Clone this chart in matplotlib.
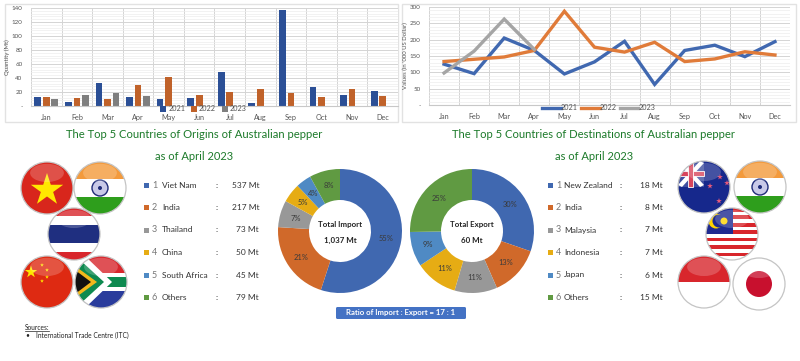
import matplotlib
matplotlib.use("Agg")
import matplotlib.pyplot as plt
import numpy as np
from matplotlib.patches import Circle, Rectangle, Ellipse, Polygon, FancyBboxPatch
from matplotlib.ticker import MultipleLocator, FuncFormatter

plt.rcParams['font.family'] = ['Lato', 'DejaVu Sans']

months = ["Jan", "Feb", "Mar", "Apr", "May", "Jun", "Jul", "Aug", "Sep", "Oct", "Nov", "Dec"]

qty_2021 = [13, 6, 33, 13, 10, 12, 48, 5, 137, 27, 16, 21]
qty_2022 = [13, 12, 10, 30, 41, 16, 20, 24, 18, 13, 24, 14]
qty_2023 = [10, 16, 19, 14]

val_2021 = [125, 96, 205, 167, 95, 132, 195, 63, 167, 183, 148, 194]
val_2022 = [133, 140, 147, 167, 287, 177, 162, 192, 133, 141, 163, 153]
val_2023 = [98, 165, 263, 170]

import_names = ["Viet Nam", "India", "Thailand", "China", "South Africa", "Others"]
import_mt = [537, 217, 73, 50, 45, 79]
import_pct = [55, 21, 7, 5, 4, 8]

export_names = ["New Zealand", "India", "Malaysia", "Indonesia", "Japan", "Others"]
export_mt = [18, 8, 7, 7, 6, 15]
export_pct = [30, 13, 11, 11, 9, 25]

colors = ["#4068B0", "#D0692A", "#989898", "#E6AC14", "#4F8AC4", "#609A42"]
dark_blue = "#2B4F96"
green_title = "#1C7A2A"
text_col = "#333333"

W, H = 800, 361
fig = plt.figure(figsize=(W / 100, H / 100), dpi=100)


def px_axes(x0, y0, x1, y1, **kw):
    return fig.add_axes([x0 / W, 1 - y1 / H, (x1 - x0) / W, (y1 - y0) / H], **kw)


def style_chart(ax, step, ylabel, label_x):
    ax.set_facecolor("white")
    ax.yaxis.set_major_locator(MultipleLocator(step))
    ax.yaxis.set_minor_locator(MultipleLocator(step / 5))
    ax.yaxis.set_major_formatter(FuncFormatter(lambda v, p: "-" if v == 0 else "%d" % v))
    ax.set_xticks(range(12))
    ax.set_xticklabels(months, fontsize=5.2, color="#555555")
    ax.set_xticks([i - 0.5 for i in range(13)], minor=True)
    ax.tick_params(axis="both", which="both", length=0)
    ax.tick_params(axis="y", labelsize=4.5, labelcolor="#555555", pad=6)
    ax.tick_params(axis="x", pad=6)
    ax.grid(True, which="major", color="#D4D4D4", lw=0.7)
    ax.grid(True, which="minor", color="#EDEDED", lw=0.5)
    ax.xaxis.grid(True, which="minor", color="#D4D4D4", lw=0.7)
    ax.xaxis.grid(False, which="major")
    ax.set_axisbelow(True)
    for s in ax.spines.values():
        s.set_visible(False)
    ax.spines["bottom"].set_visible(True)
    ax.spines["bottom"].set_color("#C8C8C8")
    ax.set_ylabel(ylabel, fontsize=4.3, color="#555555")
    ax.yaxis.set_label_coords(label_x, 0.5)


# overlay in pixel coordinates for frames, text and flags
bg = px_axes(0, 0, W, H)
bg.set_xlim(0, W)
bg.set_ylim(H, 0)
bg.axis("off")
bg.add_patch(Rectangle((5, 4), 393, 118, fc="white", ec="#E2E2E2", lw=1))
bg.add_patch(Rectangle((402, 4), 394, 118, fc="white", ec="#E2E2E2", lw=1))

# bar chart
ax1 = px_axes(31, 8, 398, 106)
n = range(12)
w = 0.22
ax1.bar([i - 0.28 for i in n], qty_2021, w, color=dark_blue, label="2021")
ax1.bar(n, qty_2022, w, color="#C0622A", label="2022")
ax1.bar([i + 0.28 for i in range(len(qty_2023))], qty_2023, w, color="#7F7F7F", label="2023")
ax1.set_xlim(-0.5, 11.5)
ax1.set_ylim(0, 140)
style_chart(ax1, 20, "Quantity (Mt)", -21 / 367)
ax1.legend(loc="center", bbox_to_anchor=(0.47, -0.03), ncol=3, frameon=False, fontsize=5.2,
           handlelength=0.8, handleheight=0.8, handletextpad=0.3, columnspacing=0.8,
           labelcolor="#555555", borderpad=0)

# line chart
ax2 = px_axes(429, 7, 790, 105)
ax2.plot(n, val_2021, color="#4068B0", lw=2.4, label="2021", solid_joinstyle="miter")
ax2.plot(n, val_2022, color="#E07B39", lw=2.4, label="2022", solid_joinstyle="miter")
ax2.plot(range(len(val_2023)), val_2023, color="#A5A5A5", lw=2.4, label="2023", solid_joinstyle="miter")
ax2.set_xlim(-0.5, 11.5)
ax2.set_ylim(0, 300)
style_chart(ax2, 50, "Values (in '000 US Dollar)", -21 / 361)
ax2.legend(loc="center", bbox_to_anchor=(0.47, -0.03), ncol=3, frameon=False, fontsize=5.2,
           handlelength=2.6, handletextpad=0, columnspacing=0.4, labelcolor="#555555", borderpad=0)

# titles
bg.text(194.5, 135, "The Top 5 Countries of Origins of Australian pepper", color=green_title,
        fontsize=8.15, ha="center", va="center")
bg.text(194, 156, "as of April 2023", color=green_title, fontsize=8, ha="center", va="center")
bg.text(594, 135, "The Top 5 Countries of Destinations of Australian pepper", color=green_title,
        fontsize=8.15, ha="center", va="center")
bg.text(594, 156, "as of April 2023", color=green_title, fontsize=8, ha="center", va="center")


def legend_rows(names, mt, x_sq, x_num, x_name, x_colon, x_val):
    for i in range(len(names)):
        y = 185 + i * 22.5
        bg.add_patch(Rectangle((x_sq, y - 2.5), 5, 5, fc=colors[i], ec="none"))
        bg.text(x_num, y, str(i + 1), fontsize=6.5, color="#777777", ha="left", va="center")
        bg.text(x_name, y, names[i], fontsize=6, color=text_col, ha="left", va="center")
        bg.text(x_colon, y, ":", fontsize=6, color=text_col, ha="center", va="center")
        bg.text(x_val, y, "%d Mt" % mt[i], fontsize=6, color=text_col, ha="right", va="center")


legend_rows(import_names, import_mt, 144, 152, 162, 217, 259)
legend_rows(export_names, export_mt, 548, 556, 564, 621, 663)


def donut(cx, cy, shares, line1, line2):
    r = 62
    ax = px_axes(cx - r, cy - r, cx + r, cy + r)
    ax.pie(shares, colors=colors, startangle=90, counterclock=False, radius=1,
           wedgeprops={"width": 0.5, "linewidth": 0})
    ax.set_xlim(-1, 1)
    ax.set_ylim(-1, 1)
    total = sum(shares)
    start = 90
    for s in shares:
        mid = start - 360 * s / total / 2
        start -= 360 * s / total
        a = np.deg2rad(mid)
        ax.text(0.75 * np.cos(a), 0.75 * np.sin(a), "%d%%" % s, fontsize=5.4,
                color="#3A3A3A", ha="center", va="center")
    ax.text(0, 0.11, line1, fontsize=5.7, fontweight="bold", color="#222222", ha="center", va="center")
    ax.text(0, -0.16, line2, fontsize=5.7, fontweight="bold", color="#222222", ha="center", va="center")


donut(340, 231, import_pct, "Total Import", "1,037 Mt")
donut(472, 231, export_pct, "Total Export", "60 Mt")

bg.add_patch(FancyBboxPatch((337, 308), 128, 10, boxstyle="round,pad=1,rounding_size=1.5",
                            fc="#4472C4", ec="none"))
bg.text(401, 313, "Ratio of Import : Export = 17 : 1", fontsize=5.6, fontweight="bold",
        color="white", ha="center", va="center")

# sources
bg.text(25, 327, "Sources:", fontsize=4.8, color="#222222", ha="left", va="center")
bg.plot([25, 49], [330.5, 330.5], color="#222222", lw=0.5)
bg.text(25, 335, "\u2022", fontsize=4.8, color="#222222", ha="left", va="center")
bg.text(36, 335, "International Trade Centre (ITC)", fontsize=4.8, color="#222222", ha="left", va="center")


# flags, drawn as shapes clipped to a circle
def flag(cx, cy, shapes, r=26):
    clip = Circle((cx, cy), r, transform=bg.transData)
    for s in shapes:
        bg.add_patch(s)
        s.set_clip_path(clip)
    gloss = Ellipse((cx, cy - r * 0.58), r * 1.3, r * 0.7, fc="white", ec="none", alpha=0.2)
    bg.add_patch(gloss)
    gloss.set_clip_path(clip)
    bg.add_patch(Circle((cx, cy), r, fc="none", ec="#C4C4C4", lw=0.9))


def bands(cx, cy, r, band_list):
    # band_list: (colour, top fraction, bottom fraction)
    return [Rectangle((cx - r, cy - r + t * 2 * r), 2 * r, (b - t) * 2 * r, fc=c, ec="none")
            for c, t, b in band_list]


def star(cx, cy, r, col="#FFE800"):
    pts = []
    for i in range(10):
        rad = r if i % 2 == 0 else r * 0.38
        a = np.deg2rad(-90 + 36 * i)
        pts.append((cx + rad * np.cos(a), cy + rad * np.sin(a)))
    return Polygon(pts, fc=col, ec="none")


def india(cx, cy):
    s = bands(cx, cy, 26, [("#F39A3C", 0, 0.33), ("white", 0.33, 0.67), ("#2E9E1C", 0.67, 1)])
    s.append(Circle((cx, cy), 8, fc="#C9C9E8", ec="#1E2A78", lw=1))
    s.append(Circle((cx, cy), 2, fc="#1E2A78", ec="none"))
    flag(cx, cy, s)


flag(47, 188, [Rectangle((21, 162), 52, 52, fc="#D8261C", ec="none"), star(47, 190, 17)])
india(100, 188)
flag(74, 234, bands(74, 234, 26, [("#D8262C", 0, 0.15), ("white", 0.15, 0.33), ("#1F2F80", 0.33, 0.67),
                                  ("white", 0.67, 0.85), ("#D8262C", 0.85, 1)]))
flag(47, 282, [Rectangle((21, 256), 52, 52, fc="#DE2A12", ec="none"), star(31, 272, 6.5),
               star(42, 265, 2), star(47, 270, 2), star(47, 277, 2), star(42, 281, 2)])
flag(101, 282, bands(101, 282, 26, [("#D8262C", 0, 0.33), ("white", 0.33, 0.4), ("#0E8A50", 0.4, 0.6),
                                    ("white", 0.6, 0.67), ("#2A3C9C", 0.67, 1)]) + [
    Polygon([(75, 256), (85, 256), (112, 282), (85, 308), (75, 308)], fc="white", ec="none"),
    Polygon([(75, 260), (80, 260), (104, 282), (80, 304), (75, 304)], fc="#0E8A50", ec="none"),
    Polygon([(75, 266), (97, 282), (75, 298)], fc="#F2B81C", ec="none"),
    Polygon([(75, 270), (91, 282), (75, 294)], fc="#111111", ec="none")])

flag(704, 187, [Rectangle((678, 161), 52, 52, fc="#16288C", ec="none"),
                Rectangle((678, 161), 26, 26, fc="#3F4FA0", ec="none"),
                Polygon([(678, 163), (682, 161), (704, 185), (700, 187)], fc="white", ec="none"),
                Polygon([(704, 163), (700, 161), (678, 185), (682, 187)], fc="white", ec="none"),
                Rectangle((678, 171), 26, 5, fc="#D8455C", ec="white", lw=0.6),
                Rectangle((688, 161), 5, 26, fc="#D8455C", ec="white", lw=0.6),
                star(720, 177, 3, "#E85A7A"), star(727, 183, 3, "#E85A7A"),
                star(710, 186, 3, "#E85A7A"), star(719, 201, 3, "#E85A7A")])
india(760, 187)
stripes = [("#D8262C" if i % 2 == 0 else "white", i / 14, (i + 1) / 14) for i in range(14)]
flag(732, 234, bands(732, 234, 26, stripes) + [
    Rectangle((706, 208), 27, 26, fc="#1E2A90", ec="none"),
    Circle((716, 221), 7.5, fc="#FFD400", ec="none"),
    Circle((719, 221), 6.5, fc="#1E2A90", ec="none"),
    Circle((724, 221), 3.5, fc="#FFD400", ec="none")])
flag(704, 282, bands(704, 282, 26, [("#D8262C", 0, 0.5), ("white", 0.5, 1)]))
flag(759, 284, [Rectangle((733, 258), 52, 52, fc="white", ec="none"),
                Circle((759, 284), 13, fc="#C8102E", ec="none")])

plt.savefig("out.png", dpi=100)
